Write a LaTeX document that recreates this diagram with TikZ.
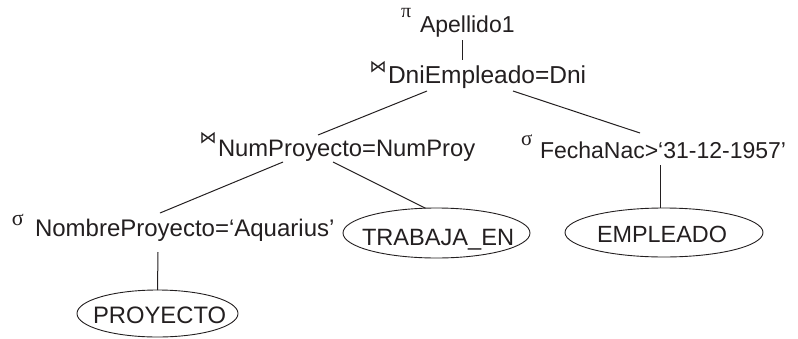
\documentclass[tikz,border=0pt]{standalone}
\usepackage{fontspec}
\setmainfont{Liberation Sans}
\newfontfamily\symserif{Liberation Serif}
\newfontfamily\symdv{DejaVu Sans}
\usetikzlibrary{shapes.geometric,calc}
\definecolor{ink}{HTML}{231F20}
\tikzset{
  lbl/.style={anchor=base west,inner sep=0pt,outer sep=0pt,text=ink,font=\fontsize{#1}{#1}\selectfont},
  lbl/.default=23.5,
  opsym/.style={anchor=base west,inner sep=0pt,outer sep=0pt,text=ink,font=\fontsize{#1}{#1}\symserif},
  opsym/.default=21,
  joinsym/.style={anchor=base west,inner sep=0pt,outer sep=0pt,text=ink,font=\fontsize{17}{17}\symdv},
  rel/.style={ellipse,draw=ink,line width=0.9pt,inner sep=0pt,outer sep=0pt},
  conn/.style={draw=ink,line width=1pt}
}
\begin{document}
\begin{tikzpicture}[x=1pt,y=-1pt]
\useasboundingbox (0,0) rectangle (798,338);
% operator labels
\node[opsym=20] (pisym) at (401,17) {π};
\node[lbl=23] (apl) at (420,32) {Apellido1};
\node[joinsym] (j1) at (369.5,72) {⋈};
\node[lbl=24.5] (dni) at (388,83) {DniEmpleado=Dni};
\node[joinsym] (j2) at (199.5,143) {⋈};
\node[lbl=23.8] (nump) at (218,156) {NumProyecto=NumProy};
\node[opsym] (s1) at (521,145) {σ};
\node[lbl=23] (fecha) at (540,158) {FechaNac>‘31-12-1957’};
\node[opsym=22] (s2) at (12,225) {σ};
\node[lbl=24] (nombre) at (35,236) {NombreProyecto=‘Aquarius’};
% relations
\node[rel,minimum width=187pt,minimum height=50pt] (tr) at (436.5,233) {};
\node[lbl=23.6] (trt) at (362,245) {TRABAJA\_EN};
\node[rel,minimum width=198pt,minimum height=49pt] (em) at (664,232.5) {};
\node[lbl=23.4] (emt) at (597,242) {EMPLEADO};
\node[rel,minimum width=161pt,minimum height=47pt] (pr) at (157.5,313.5) {};
\node[lbl=23.8] (prt) at (93,323) {PROYECTO};
% connectors
\draw[conn] ($(apl.base west)+(42,8)$) -- ($(dni.base west)+(74,-23)$);
\draw[conn] ($(dni.base west)+(39,8)$) -- ($(nump.base west)+(100,-21)$);
\draw[conn] ($(dni.base west)+(125,8)$) -- ($(fecha.base west)+(100,-25)$);
\draw[conn] ($(nump.base west)+(65,6)$) -- ($(nombre.base west)+(125,-23)$);
\draw[conn] ($(nump.base west)+(115,6)$) -- (tr.114.7);
\draw[conn] ($(fecha.base west)+(120,7)$) -- ($(em.north)+(-4,0)$);
\draw[conn] ($(nombre.base west)+(123,16)$) -- (pr.north);
\end{tikzpicture}
\end{document}
